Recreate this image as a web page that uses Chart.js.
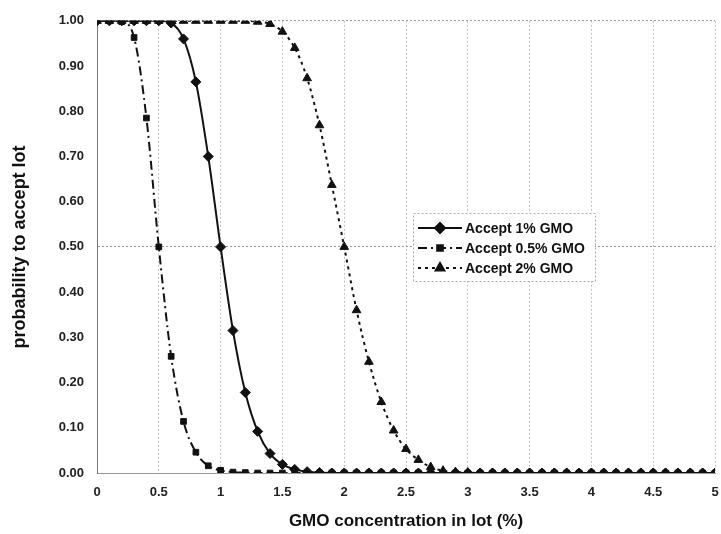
<!DOCTYPE html>
<html>
<head>
<meta charset="utf-8">
<script src="https://cdn.jsdelivr.net/npm/chart.js@4/dist/chart.umd.min.js"></script>
<style>
  html, body { margin: 0; padding: 0; background: #fff; overflow: hidden; }
  #wrap { width: 721px; height: 534px; }
  #oc { display: block; }
</style>
</head>
<body>
<div id="wrap"><canvas id="oc"></canvas></div>
<script>
// GMO concentration in lot (%)
const concentration = [
    0.0, 0.1, 0.2, 0.3, 0.4, 0.5, 0.6, 0.7, 0.8, 0.9,
    1.0, 1.1, 1.2, 1.3, 1.4, 1.5, 1.6, 1.7, 1.8, 1.9,
    2.0, 2.1, 2.2, 2.3, 2.4, 2.5, 2.6, 2.7, 2.8, 2.9,
    3.0, 3.1, 3.2, 3.3, 3.4, 3.5, 3.6, 3.7, 3.8, 3.9,
    4.0, 4.1, 4.2, 4.3, 4.4, 4.5, 4.6, 4.7, 4.8, 4.9, 5.0
];

const accept1 = [
    1.000, 1.000, 1.000, 1.000, 1.000, 1.000, 0.995, 0.960, 0.865, 0.700,
    0.500, 0.315, 0.178, 0.092, 0.043, 0.019, 0.008, 0.003, 0.001, 0,
    0, 0, 0, 0, 0, 0, 0, 0, 0, 0,
    0, 0, 0, 0, 0, 0, 0, 0, 0, 0,
    0, 0, 0, 0, 0, 0, 0, 0, 0, 0, 0
];

const accept05 = [
    1.000, 1.000, 0.998, 0.963, 0.785, 0.500, 0.258, 0.114, 0.046, 0.016,
    0.006, 0.002, 0.001, 0, 0, 0, 0, 0, 0, 0,
    0, 0, 0, 0, 0, 0, 0, 0, 0, 0,
    0, 0, 0, 0, 0, 0, 0, 0, 0, 0,
    0, 0, 0, 0, 0, 0, 0, 0, 0, 0, 0
];

const accept2 = [
    1.000, 1.000, 1.000, 1.000, 1.000, 1.000, 1.000, 1.000, 1.000, 1.000,
    1.000, 1.000, 1.000, 0.998, 0.993, 0.976, 0.940, 0.873, 0.769, 0.637,
    0.500, 0.360, 0.246, 0.157, 0.094, 0.053, 0.029, 0.013, 0.005, 0.002,
    0.001, 0, 0, 0, 0, 0, 0, 0, 0, 0,
    0, 0, 0, 0, 0, 0, 0, 0, 0, 0, 0
];

const xTicks = [0, 0.5, 1, 1.5, 2, 2.5, 3, 3.5, 4, 4.5, 5];
const yTicks = [0, 0.1, 0.2, 0.3, 0.4, 0.5, 0.6, 0.7, 0.8, 0.9, 1.0];

const FONT = "'Liberation Sans', Arial, sans-serif";
const INK = "#111";

function pts(ys) {
    return concentration.map((x, i) => ({ x: x, y: ys[i] }));
}

const series = [
    { label: "Accept 1% GMO", data: accept1, style: "rectRot", radius: 5, dash: [] },
    { label: "Accept 0.5% GMO", data: accept05, style: "rect", radius: 4, dash: [9, 4, 2, 4] },
    { label: "Accept 2% GMO", data: accept2, style: "triangle", radius: 5, dash: [3, 4] }
];

// legend box drawn inside the plot, like the original
const boxLegend = {
    id: "boxLegend",
    afterDraw(chart) {
        const ctx = chart.ctx;
        const x0 = 413, y0 = 213, w = 182, h = 68;
        ctx.save();
        ctx.fillStyle = "#fff";
        ctx.fillRect(x0, y0, w, h);
        ctx.strokeStyle = "#aaa";
        ctx.lineWidth = 1;
        ctx.setLineDash([2, 2]);
        ctx.strokeRect(x0 + 0.5, y0 + 0.5, w, h);
        series.forEach((s, i) => {
            const cy = 228 + i * 20;
            ctx.strokeStyle = INK;
            ctx.lineWidth = 2;
            ctx.setLineDash(s.dash);
            ctx.beginPath();
            ctx.moveTo(418, cy);
            ctx.lineTo(462, cy);
            ctx.stroke();
            ctx.setLineDash([]);
            ctx.fillStyle = INK;
            Chart.helpers.drawPoint(ctx, { pointStyle: s.style, radius: s.radius, rotation: 0, borderWidth: 1 }, 440, cy);
            ctx.fillStyle = INK;
            ctx.font = "bold 14px " + FONT;
            ctx.textBaseline = "middle";
            ctx.textAlign = "left";
            ctx.fillText(s.label, 465, cy + 1);
        });
        ctx.restore();
    }
};

new Chart(document.getElementById("oc"), {
    type: "line",
    data: {
        datasets: series.map(s => ({
            label: s.label,
            data: pts(s.data),
            borderColor: INK,
            backgroundColor: INK,
            borderWidth: 2,
            borderDash: s.dash,
            pointStyle: s.style,
            pointRadius: s.radius,
            pointBorderWidth: 1,
            pointBorderColor: INK,
            pointBackgroundColor: INK,
            cubicInterpolationMode: "monotone",
            fill: false
        }))
    },
    options: {
        responsive: true,
        maintainAspectRatio: false,
        animation: false,
        layout: { padding: { top: 18, right: 3, left: 0, bottom: 0 } },
        plugins: {
            legend: { display: false },
            tooltip: { enabled: false }
        },
        scales: {
            x: {
                type: "linear",
                min: 0,
                max: 5,
                afterBuildTicks: axis => { axis.ticks = xTicks.map(v => ({ value: v })); },
                afterFit: axis => { axis.height = 61; },
                ticks: {
                    padding: 0,
                    maxRotation: 0,
                    color: "#222",
                    font: { family: FONT, size: 13, weight: "bold" },
                    callback: v => String(v)
                },
                grid: {
                    drawTicks: true,
                    tickLength: 12,
                    tickColor: "rgba(0,0,0,0)",
                    color: "#c4c4c4",
                    lineWidth: 1
                },
                border: { display: true, color: "#999", dash: [2, 2] },
                title: {
                    display: true,
                    text: "GMO concentration in lot (%)",
                    color: INK,
                    font: { family: FONT, size: 17, weight: "bold" },
                    padding: { top: 0, bottom: 2 }
                }
            },
            y: {
                min: 0,
                max: 1,
                afterBuildTicks: axis => { axis.ticks = yTicks.map(v => ({ value: v })); },
                afterFit: axis => { axis.width = 97; },
                ticks: {
                    padding: 13,
                    color: "#222",
                    font: { family: FONT, size: 13, weight: "bold" },
                    callback: v => Number(v).toFixed(2)
                },
                grid: {
                    drawTicks: false,
                    color: ctx => (Math.abs(ctx.tick.value - 0.5) < 1e-6 || Math.abs(ctx.tick.value - 1) < 1e-6) ? "#999" : "rgba(0,0,0,0)",
                    lineWidth: 1
                },
                border: { display: true, color: "#777", dash: [2, 2] },
                title: {
                    display: true,
                    text: "probability to accept lot",
                    color: INK,
                    font: { family: FONT, size: 18, weight: "bold" },
                    padding: { top: 9, bottom: 0 }
                }
            }
        }
    },
    plugins: [boxLegend]
});
</script>
</body>
</html>
